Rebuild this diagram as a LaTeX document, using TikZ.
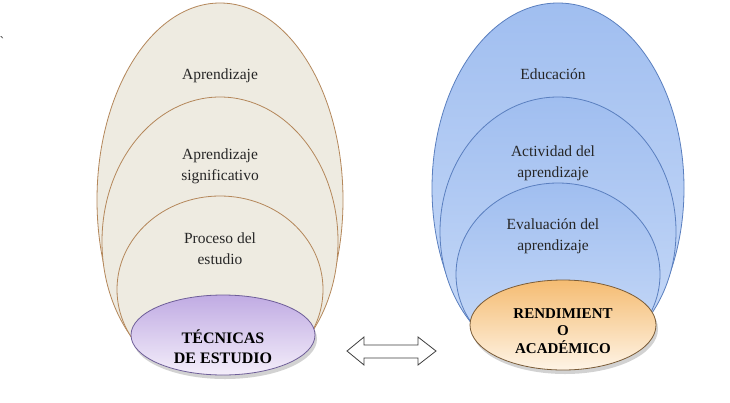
\documentclass[tikz,border=0pt]{standalone}
\usepackage{fontspec}
\setmainfont{Liberation Serif}
\usetikzlibrary{shapes.geometric,shadows}
\definecolor{beigefill}{HTML}{EEEBE1}
\definecolor{beigeline}{HTML}{B4875A}
\definecolor{bluetop}{HTML}{A0BEF0}
\definecolor{bluebot}{HTML}{CCDDF8}
\definecolor{blueline}{HTML}{5A7FBF}
\definecolor{purptop}{HTML}{C0ABE3}
\definecolor{purpbot}{HTML}{F4EEFA}
\definecolor{purpline}{HTML}{6E5E98}
\definecolor{orantop}{HTML}{F5BC72}
\definecolor{oranbot}{HTML}{FEF4E6}
\definecolor{oranline}{HTML}{7A5C38}
\tikzset{
  ring/.style={ellipse, inner sep=0pt, line width=0.8pt},
  beigering/.style={ring, draw=beigeline, fill=beigefill},
  bluering/.style={ring, draw=blueline, top color=bluetop, bottom color=bluebot},
  lbl/.style={align=center, font=\rmfamily\fontsize{15.5}{21}\selectfont, text=black!85},
  boldlbl/.style={align=center, font=\rmfamily\fontsize{16}{20}\selectfont\bfseries, text=black},
}
\begin{document}
\begin{tikzpicture}[x=1pt,y=-1pt]
\useasboundingbox (0,0) rectangle (730,402);
\fill[white] (0,0) rectangle (730,402);

\node[font=\rmfamily\fontsize{14}{14}\selectfont, text=black!80] (tick) at (2,42) {\textasciigrave};

% left group
\begin{scope}
\clip (0,0) rectangle (365,337);
\node[beigering, minimum width=246pt, minimum height=394pt] (l1) at (220,200) {};
\node[beigering, minimum width=236pt, minimum height=289pt] (l2) at (220,241.5) {};
\node[beigering, minimum width=206pt, minimum height=187pt] (l3) at (220,289.5) {};
\end{scope}
\node[lbl] (t1) at (220,76) {Aprendizaje};
\node[lbl] (t2) at (220,166) {Aprendizaje\\significativo};
\node[lbl] (t3) at (220,249) {Proceso del\\estudio};
\node[ring, draw=purpline, top color=purptop, bottom color=purpbot,
      minimum width=184pt, minimum height=80pt,
      drop shadow={opacity=0.35, shadow xshift=2pt, shadow yshift=-4pt}] (tec) at (223,335) {};
\node[boldlbl] (tect) at (223,347) {TÉCNICAS\\DE ESTUDIO};

% right group
\begin{scope}
\clip (365,0) rectangle (730,325);
\node[bluering, minimum width=252pt, minimum height=370.6pt] (r1) at (558,188.3) {};
\node[bluering, minimum width=236pt, minimum height=269.2pt] (r2) at (558,231.6) {};
\node[bluering, minimum width=204pt, minimum height=182.8pt] (r3) at (558,274.4) {};
\end{scope}
\node[lbl] (u1) at (553,74) {Educación};
\node[lbl] (u2) at (553,163) {Actividad del\\aprendizaje};
\node[lbl] (u3) at (553,236) {Evaluación del\\aprendizaje};
\node[ring, draw=oranline, top color=orantop, bottom color=oranbot,
      minimum width=186pt, minimum height=90pt,
      drop shadow={opacity=0.35, shadow xshift=2pt, shadow yshift=-4pt}] (ren) at (563,325) {};
\node[align=center, font=\rmfamily\fontsize{15}{17.5}\selectfont\bfseries] (rent) at (563,331) {RENDIMIENT\\O\\ACADÉMICO};

% double arrow
\draw[line width=0.8pt, draw=black!75, fill=white, line join=miter]
  (347,351) -- (364,337) -- (364,345) -- (418,345) -- (418,337) -- (436,351)
  -- (418,365) -- (418,358) -- (364,358) -- (364,365) -- cycle;
\end{tikzpicture}
\end{document}
